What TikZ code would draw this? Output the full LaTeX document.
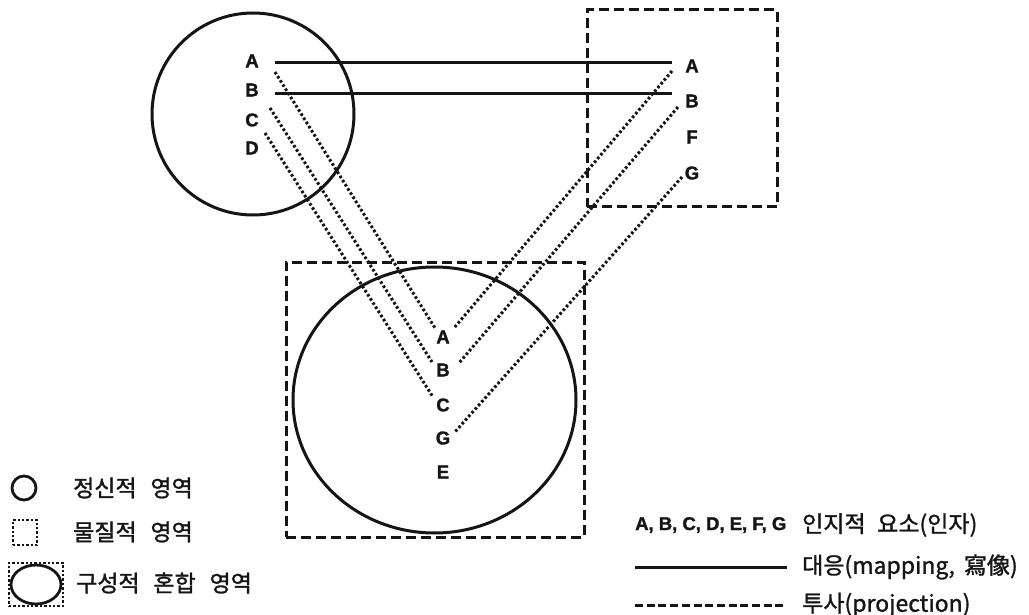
\documentclass[tikz,border=0pt]{standalone}
\usepackage{fontspec}
\setmainfont{Liberation Sans}
\newfontfamily\kr[FakeBold=1.3]{Noto Sans CJK KR}
\newfontfamily\lab[FakeBold=1.5]{Liberation Sans Bold}
\usetikzlibrary{shapes.geometric,calc}
\definecolor{ink}{HTML}{151515}
\begin{document}
\begin{tikzpicture}[x=1pt,y=-1pt,
  lbl/.style={font=\lab\fontsize{18.5}{18.5}\selectfont, inner sep=0pt, text=ink},
  krt/.style={font=\kr\fontsize{23}{23}\selectfont, inner sep=0pt, anchor=west, text=ink},
  area/.style={draw=ink, line width=3pt, inner sep=0pt},
  dashbox/.style={draw=ink, line width=3pt, dash pattern=on 10pt off 5pt, inner sep=0pt},
  mapline/.style={draw=ink, line width=3pt},
  projline/.style={draw=ink, line width=3pt, dash pattern=on 2.6pt off 2.3pt},
  legdash/.style={draw=ink, line width=3pt, dash pattern=on 8pt off 3.7pt},
  legdot/.style={draw=ink, line width=2.6pt, dash pattern=on 2.4pt off 2pt},
]
\useasboundingbox (0,0) rectangle (1029,615);

% areas
\node[area, circle, minimum size=202pt] (mind) at (253,114) {};
\node[dashbox, rectangle, minimum width=190pt, minimum height=197pt] (matbox) at (682,108.5) {};
\node[dashbox, rectangle, minimum width=298pt, minimum height=275pt] (blendbox) at (435,399.5) {};
\node[area, ellipse, minimum width=283pt, minimum height=266pt] (blend) at (434.5,400) {};

% labels in mental space
\node[lbl] (lA) at (252,61) {A};
\node[lbl] (lB) at (252,90) {B};
\node[lbl] (lC) at (252,120) {C};
\node[lbl] (lD) at (252,148) {D};
% labels in material space
\node[lbl] (rA) at (692,66) {A};
\node[lbl] (rB) at (692,101) {B};
\node[lbl] (rF) at (692,137) {F};
\node[lbl] (rG) at (692,173) {G};
% labels in blended space
\node[lbl] (bA) at (443,337) {A};
\node[lbl] (bB) at (443,370) {B};
\node[lbl] (bC) at (443,405) {C};
\node[lbl] (bG) at (443,438) {G};
\node[lbl] (bE) at (443,472) {E};

% mappings
\draw[mapline] ($(lA)+(23,2)$) -- ($(rA)+(-20,-3)$);
\draw[mapline] ($(lB)+(23,4)$) -- ($(rB)+(-20,-7)$);

% projections
\draw[projline] ($(lA)+(23,11)$) -- ($(bA)+(-8,-9)$);
\draw[projline] ($(lC)+(18,-12)$) -- ($(bB)+(-11,-8)$);
\draw[projline] ($(lD)+(13,-15)$) -- ($(bC)+(-10,-8)$);
\draw[projline] ($(rA)+(-20,5)$) -- ($(bA)+(11,-9)$);
\draw[projline] ($(rB)+(-14,6)$) -- ($(bB)+(16,-7)$);
\draw[projline] ($(rG)+(-10,4)$) -- ($(bG)+(11,-5)$);

% legend left
\node[area, circle, minimum size=24pt, line width=2.8pt] (lgc) at (24,488) {};
\node[krt] (lgct) at (73,488) {정신적\hspace{0.6em}영역};
\node[legdot, rectangle, minimum width=24pt, minimum height=25pt, inner sep=0pt] (lgs) at (25,532.5) {};
\node[krt] (lgst) at (73,532) {물질적\hspace{0.6em}영역};
\node[legdot, rectangle, minimum width=54pt, minimum height=43pt, inner sep=0pt] (lgb) at (36,584.5) {};
\node[area, ellipse, minimum width=50pt, minimum height=39pt, line width=2.8pt] (lge) at (36,584.5) {};
\node[krt] (lgbt) at (76,583) {구성적\hspace{0.6em}혼합\hspace{0.6em}영역};

% legend right
\node[font=\lab\fontsize{18.5}{18.5}\selectfont, inner sep=0pt, anchor=west, text=ink] (lgl) at (635,525) {A, B, C, D, E, F, G};
\node[krt] (lglt) at (802,525) {인지적\hspace{0.5em}요소(인자)};
\node[krt] (lgmt) at (802,567) {대응(mapping,\hspace{0.4em}寫像)};
\node[krt] (lgpt) at (802,605) {투사(projection)};
\coordinate (mapstart) at (635,567);
\coordinate (projstart) at (635,605);
\draw[mapline] (mapstart) -- ($(lgmt.west)+(-15,0)$);
\draw[legdash] (projstart) -- ($(lgpt.west)+(-15,0)$);
\end{tikzpicture}
\end{document}
